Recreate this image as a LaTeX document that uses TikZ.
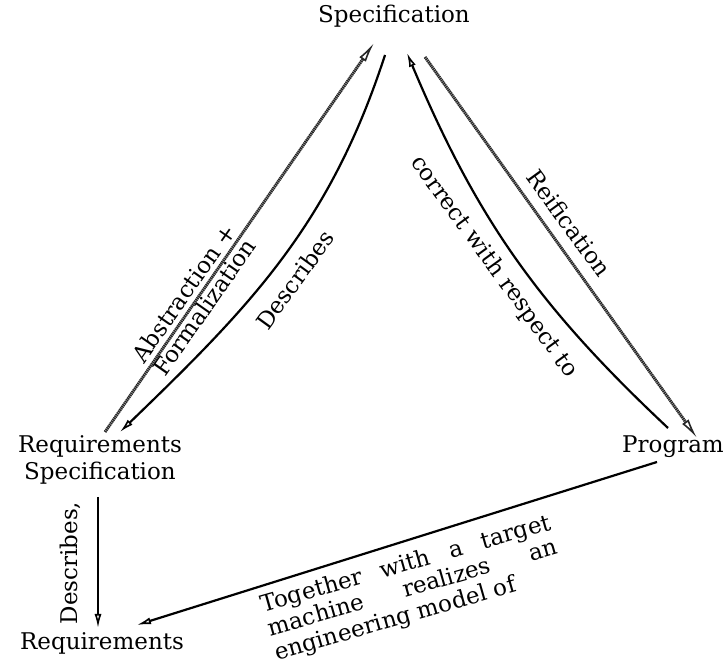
\documentclass[tikz,border=0pt]{standalone}
\usepackage{fontspec}
\setmainfont{DejaVu Serif}
\usetikzlibrary{arrows.meta,calc}

\begin{document}
\begin{tikzpicture}[x=0.5pt,y=0.5pt,
  every node/.style={font=\fontsize{11.5}{13.5}\selectfont},
  texline/.style={draw=black!85,line width=1.5pt,dash pattern=on 0.7pt off 0.3pt,
    -{Latex[open,length=10pt,width=4pt,line width=0.8pt]}},
  plainarrow/.style={line width=1.1pt,-{Latex[open,length=7pt,width=3.5pt,line width=0.8pt]}}]
\useasboundingbox (0,0) rectangle (727,667);

\node (spec) at (394,651) {Specification};
\node[align=center] (reqspec) at (100,207) {Requirements\\Specification};
\node (prog) at (673,220) {Program};
\node (req) at (102,24) {Requirements};

% abstraction and reification
\draw[texline] ($(reqspec)+(5,28)$) -- ($(spec)+(-20,-27)$);
\draw[texline] ($(spec)+(31,-41)$) -- ($(prog)+(24,9)$);

% describes, correct with respect to
\draw[plainarrow] ($(spec)+(-9,-39)$) to[out=252,in=44] ($(reqspec)+(20,28)$);
\draw[plainarrow] ($(prog)+(-5,19)$) to[bend left=12] ($(spec)+(13,-37)$);
\draw[plainarrow] ($(reqspec)+(-2,-37)$) -- ($(req)+(-4,15)$);
\draw[plainarrow] ($(prog)+(-16,-15)$) -- ($(req)+(35,18)$);

\node[rotate=55,align=center,font=\fontsize{11.5}{12.5}\selectfont] (abslbl) at (194,367) {Abstraction +\\Formalization};
\node[rotate=54] (desclbl) at (295,387) {Describes};
\node[rotate=-54] (reiflbl) at (569,444) {Reification};
\node[rotate=-54] (corrlbl) at (494,400) {correct with respect to};
\node[rotate=90] (reqlbl) at (70,104) {Describes,};
\node[rotate=16,text width=150pt,align=left,font=\fontsize{11.5}{12.5}\selectfont] (tgtlbl) at (413,78)
  {Together \hfill with \hfill a \hfill target\\machine \hfill realizes \hfill an\\engineering model of};
\end{tikzpicture}
\end{document}
